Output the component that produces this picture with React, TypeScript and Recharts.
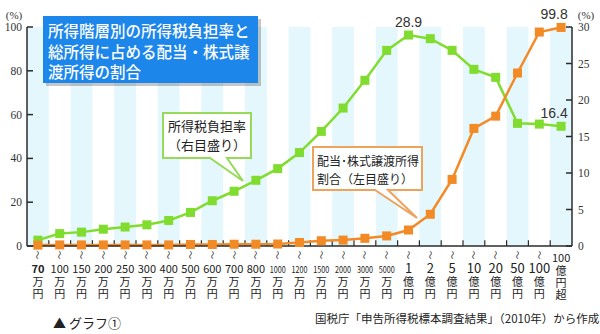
import React from "react";
import { ComposedChart, Line, XAxis, YAxis, ReferenceArea, ReferenceLine } from "recharts";

const categories = [
  "70万円", "100万円", "150万円", "200万円", "250万円", "300万円", "400万円", "500万円",
  "600万円", "700万円", "800万円", "1000万円", "1200万円", "1500万円", "2000万円", "3000万円",
  "5000万円", "1億円", "2億円", "5億円", "10億円", "20億円", "50億円", "100億円", "100億円超",
];
// 所得税負担率 (右目盛り, %)
const taxBurden = [
  0.8, 1.7, 1.9, 2.3, 2.6, 2.9, 3.5, 4.6, 6.2, 7.5, 9.0, 10.6, 12.8,
  15.7, 18.9, 22.7, 26.8, 28.9, 28.4, 26.8, 24.2, 23.1, 16.8, 16.7, 16.4,
];
// 配当・株式譲渡所得割合 (左目盛り, %)
const dividendShare = [
  0.4, 0.5, 0.5, 0.5, 0.5, 0.5, 0.5, 0.7, 0.7, 0.8, 0.8, 0.9, 1.6,
  2.4, 2.7, 3.5, 4.6, 7.3, 14.5, 30.4, 53.7, 59.3, 79.0, 97.7, 99.8,
];
const leftTicks = [0, 20, 40, 60, 80, 100];
const rightTicks = [0, 5, 10, 15, 20, 25, 30];

const data = categories.map((name, i) => ({ i, name, tax: taxBurden[i], div: dividendShare[i] }));
const indexTicks = categories.map((_, i) => i);
const stripeIdx = indexTicks.filter((i) => i % 2 === 0);
const boundaries = indexTicks.slice(0, -1).map((i) => i + 0.5);

const GREEN = "#80dc2e";
const ORANGE = "#f28a26";
const AXIS = "#2b2b2b";
const JP = "'Noto Sans CJK JP', 'Noto Sans', sans-serif";
const SERIF = "'Liberation Serif', 'DejaVu Serif', serif";

function XTick(props: any) {
  const { x, y, payload } = props;
  const label: string = categories[payload.value] ?? "";
  const m = label.match(/^(\d+)(.*)$/);
  const num = m ? m[1] : "";
  const rest = m ? m[2] : "";
  const over = label.endsWith("超");
  const oku = label.includes("億");
  const long = num.length >= 4;
  const numSize = oku && !over ? 13 : long ? 9 : 11;
  const squeeze = long ? { textLength: 16, lengthAdjust: "spacingAndGlyphs" as const } : {};
  const numY = over ? y + 16 : y + 27;
  return (
    <g fill="#222" fontFamily={JP}>
      {!over && (
        <text x={x} y={y + 9} fontSize={9} textAnchor="middle" dominantBaseline="central" transform={`rotate(90 ${x} ${y + 9})`}>～</text>
      )}
      <text x={x} y={numY} textAnchor="middle" fontSize={numSize} fontWeight={payload.value === 0 ? 700 : 400} {...squeeze}>{num}</text>
      <text x={x} y={numY + 3} fontSize={11} letterSpacing={1} style={{ writingMode: "vertical-rl" }}>{rest}</text>
    </g>
  );
}

const squareDot = (fill: string) => (props: any) => {
  const { cx, cy, index } = props;
  if (cx == null || cy == null) return <g key={index} />;
  return <rect key={index} x={cx - 4.5} y={cy - 4.5} width={9} height={9} fill={fill} />;
};

const valueLabel = (marks: Record<string, number>) => (props: any) => {
  const { x, y, value, index } = props;
  const key = String(value);
  if (!(key in marks)) return <g key={index} />;
  return (
    <text key={index} x={x + marks[key]} y={y - 8} textAnchor="middle" fontSize={14} fill="#333" fontFamily="'Liberation Sans', Arial, sans-serif">
      {value}
    </text>
  );
};

function Overlay() {
  return (
    <>
      <svg width={600} height={334} style={{ position: "absolute", left: 0, top: 0, pointerEvents: "none" }}>
        <text x={14} y={19} textAnchor="middle" fontSize={11} fontFamily={SERIF} fill="#333">(%)</text>
        <text x={586} y={19} textAnchor="middle" fontSize={11} fontFamily={SERIF} fill="#333">(%)</text>

        <rect x={46} y={19} width={215} height={67} fill="#000" opacity={0.22} />
        <rect x={43} y={16} width={215} height={67} fill="#1d86ea" />
        <g fill="#fff" fontFamily={JP} fontSize={15.5} fontWeight={500}>
          <text x={48} y={37}>所得階層別の所得税負担率と</text>
          <text x={48} y={57.5}>総所得に占める配当・株式譲</text>
          <text x={48} y={78}>渡所得の割合</text>
        </g>

        <path d="M163,113 H251 V158 H227 L243,181 L210,158 H163 Z" fill="#fff" stroke="#97da5a" strokeWidth={2} />
        <g fill="#222" fontFamily={JP} fontSize={13} textAnchor="middle">
          <text x={207} y={130.5}>所得税負担率</text>
          <text x={207} y={149.5}>（右目盛り）</text>
        </g>

        <path d="M313,147 H422 V190 H388 L417,218 L375,190 H313 Z" fill="#fff" stroke="#eea35c" strokeWidth={2} />
        <g fill="#222" fontFamily={JP} fontSize={12}>
          <text x={317} y={166}>配当･株式譲渡所得</text>
          <text x={317} y={183.5}>割合（左目盛り）</text>
        </g>

        <text x={53} y={328} fontSize={13} fontFamily={JP} fill="#222">▲ グラフ①</text>
        <text x={315} y={323} fontSize={11.5} fontFamily={JP} fill="#222">国税庁「申告所得税標本調査結果」（2010年）から作成</text>
      </svg>
    </>
  );
}

export default function App() {
  return (
    <div style={{ position: "absolute", left: 0, top: 0, width: 600, height: 334, background: "#fff" }}>
      <ComposedChart width={600} height={334} data={data} margin={{ top: 27, right: 0, bottom: 0, left: 0 }}>
        <XAxis
          type="number"
          dataKey="i"
          domain={[-0.5, 24.5]}
          ticks={indexTicks}
          interval={0}
          tick={<XTick />}
          tickLine={false}
          tickSize={0}
          tickMargin={0}
          height={88}
          axisLine={{ stroke: AXIS, strokeWidth: 1.5 }}
          allowDataOverflow
        />
        <YAxis
          yAxisId="left"
          domain={[0, 100]}
          ticks={leftTicks}
          width={27}
          tickSize={-6}
          tickMargin={11}
          interval={0}
          tick={{ fontSize: 11.5, fill: "#333", fontFamily: SERIF }}
          tickLine={{ stroke: AXIS, strokeWidth: 1.5 }}
          axisLine={{ stroke: AXIS, strokeWidth: 1.5 }}
        />
        <YAxis
          yAxisId="right"
          orientation="right"
          domain={[0, 30]}
          ticks={rightTicks}
          width={28}
          tickSize={-6}
          tickMargin={12}
          interval={0}
          tick={{ fontSize: 11.5, fill: "#333", fontFamily: SERIF }}
          tickLine={{ stroke: AXIS, strokeWidth: 1.5 }}
          axisLine={{ stroke: AXIS, strokeWidth: 1.5 }}
        />
        {stripeIdx.map((k) => (
          <ReferenceArea key={`s${k}`} yAxisId="left" x1={k - 0.5} x2={k + 0.5} y1={0} y2={100} fill="#e4f7fc" fillOpacity={1} stroke="none" />
        ))}
        {boundaries.map((b) => (
          <ReferenceLine key={`b${b}`} yAxisId="left" segment={[{ x: b, y: 0 }, { x: b, y: 2.6 }]} stroke={AXIS} strokeWidth={1.2} />
        ))}
        <Line
          yAxisId="right"
          dataKey="tax"
          stroke={GREEN}
          strokeWidth={2.5}
          dot={squareDot(GREEN)}
          activeDot={false}
          label={valueLabel({ "28.9": 0, "16.4": -7 })}
          isAnimationActive={false}
        />
        <Line
          yAxisId="left"
          dataKey="div"
          stroke={ORANGE}
          strokeWidth={2.5}
          dot={squareDot(ORANGE)}
          activeDot={false}
          label={valueLabel({ "99.8": -7 })}
          isAnimationActive={false}
        />
      </ComposedChart>
      <Overlay />
    </div>
  );
}
